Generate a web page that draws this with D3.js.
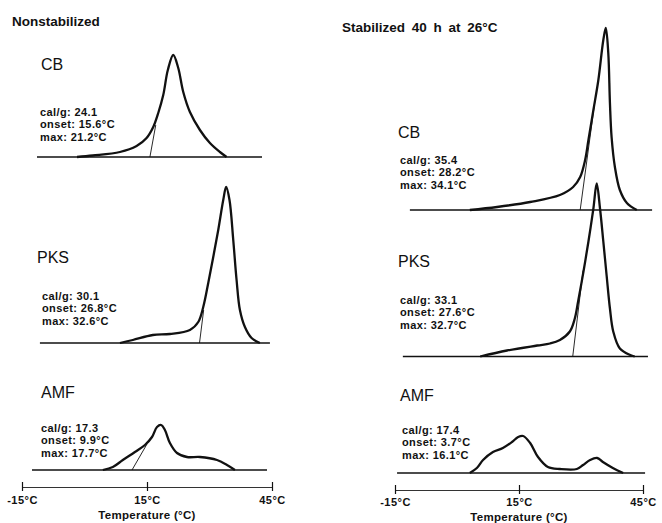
<!DOCTYPE html>
<html>
<head>
<meta charset="utf-8">
<script src="https://cdn.jsdelivr.net/npm/d3@7"></script>
<style>
  body { margin: 0; background: #fff; }
  text { font-family: "Liberation Sans", Arial, sans-serif; fill: #111; }
</style>
</head>
<body>
<script>
// temperature ticks of both axes
const tempTicks = [-15, 15, 45];
const panelNames = ["CB", "PKS", "AMF"];
const columnTitles = ["Nonstabilized", "Stabilized 40 h at 26\u00b0C"];

// stats printed next to each thermogram
const nonstabStats = [
  ["cal/g: 24.1", "onset: 15.6\u00b0C", "max: 21.2\u00b0C"],
  ["cal/g: 30.1", "onset: 26.8\u00b0C", "max: 32.6\u00b0C"],
  ["cal/g: 17.3", "onset: 9.9\u00b0C", "max: 17.7\u00b0C"]
];
const stabStats = [
  ["cal/g: 35.4", "onset: 28.2\u00b0C", "max: 34.1\u00b0C"],
  ["cal/g: 33.1", "onset: 27.6\u00b0C", "max: 32.7\u00b0C"],
  ["cal/g: 17.4", "onset: 3.7\u00b0C", "max: 16.1\u00b0C"]
];

// melting curves, [temperature, heat flow (arbitrary units)]
const cbNonstab = [[-1.8,0],[2.0,1.5],[8.5,5],[12.5,11],[14.9,19],[16.5,30],[17.7,44],[18.9,62],[20.0,87],
  [21.3,102],[22.5,89],[23.7,65],[25.3,45],[27.7,27],[30.1,14],[32.5,5],[34.1,0]];
const pksNonstab = [[8.5,0],[11.6,3],[16.4,8],[20.5,9],[25.3,13],[27.3,21],[28.5,36],[29.7,60],[30.9,86],
  [32.1,113],[33.3,143],[34.0,156],[34.8,143],[35.7,103],[36.5,63],[37.3,33],[38.5,16],[40.1,5],[42.1,0]];
const amfNonstab = [[4.4,0],[6.8,3],[9.2,10],[12.1,18],[14.5,25],[16.2,33],[17.4,43],[18.4,45],[19.3,40],
  [20.5,27],[22.2,17],[24.6,13],[27.7,13],[31.8,10],[34.2,5],[36.1,0]];
const cbStab = [[3.1,0],[9.7,3],[17.7,8],[24.9,15],[28.1,23],[29.8,33],[31.0,50],[31.8,70],[33.0,100],
  [34.2,130],[35.4,170],[36.0,182],[36.6,157],[37.0,107],[37.4,73],[38.2,43],[39.4,20],[41.1,7],[43.5,0]];
const pksStab = [[5.6,0],[12.1,6],[19.4,11],[22.5,13],[24.9,16.5],[27.3,25],[28.5,38],[29.3,55],[30.6,85],
  [31.8,115],[33.0,148],[33.8,173],[34.6,148],[35.4,115],[36.2,81],[37.0,48],[37.8,25],[39.4,8],[41.9,1.5],[43.0,0]];
const amfStab = [[3.1,0],[4.8,5],[6.3,13],[8.7,21],[11.1,25],[13.3,31],[14.8,36],[16.0,37],[17.7,30],
  [19.6,16],[22.0,6],[24.9,4],[29.0,4],[30.5,8],[32.2,13],[33.9,15],[35.3,11],[37.7,5],[40.2,0]];

// onset tangents, [temperature, heat flow]
const cbNonstabOnset = [[15.7,0],[17.1,32]];
const pksNonstabOnset = [[27.6,0],[28.6,33]];
const amfNonstabOnset = [[11.4,0],[15.0,26]];
const cbStabOnset = [[29.8,0],[33.4,110]];
const pksStabOnset = [[28.0,0],[30.5,86]];

const width = 662, height = 523;

const svg = d3.select("body").append("svg")
  .attr("width", width)
  .attr("height", height);

// layout of the two columns
const columns = [
  { range: [22, 272], axisY: 487, tickY: 9, labelY: 519, titleX: 12, titleY: 26,
    statsX: [40, 42, 41], nameX: [41, 37, 41],
    base: [157, 343, 470], nameY: [70, 263, 398], statsY: [116, 300, 432],
    span: [[-11.4, 42.6], [-10.7, 44.5], [-12.6, 43.8]],
    curves: [cbNonstab, pksNonstab, amfNonstab], onsets: [cbNonstabOnset, pksNonstabOnset, amfNonstabOnset],
    stats: nonstabStats, wordSpacing: 0 },
  { range: [395, 643], axisY: 490, tickY: 8, labelY: 520.5, titleX: 342, titleY: 32,
    statsX: [400, 400, 402], nameX: [398, 398, 400],
    base: [210, 356.5, 473], nameY: [138, 267, 401], statsY: [164, 304, 434],
    span: [[-11.4, 47.2], [-13.1, 46.2], [-14.5, 45.5]],
    curves: [cbStab, pksStab, amfStab], onsets: [cbStabOnset, pksStabOnset, null],
    stats: stabStats, wordSpacing: 3 }
];

columns.forEach((col, c) => {
  const x = d3.scaleLinear().domain([-15, 45]).range(col.range);

  svg.append("text")
    .attr("x", col.titleX)
    .attr("y", col.titleY)
    .attr("font-size", 13.5)
    .attr("font-weight", "bold")
    .attr("word-spacing", col.wordSpacing)
    .text(columnTitles[c]);

  panelNames.forEach((name, i) => {
    const y = d3.scaleLinear().domain([0, 100]).range([col.base[i], col.base[i] - 100]);
    const line = d3.line().x(d => x(d[0])).y(d => y(d[1]));

    // baseline
    svg.append("path")
      .attr("d", line([[col.span[i][0], 0], [col.span[i][1], 0]]))
      .attr("stroke", "#111")
      .attr("stroke-width", 1.6)
      .attr("fill", "none");

    // onset tangent
    if (col.onsets[i]) {
      svg.append("path")
        .attr("d", line(col.onsets[i]))
        .attr("stroke", "#111")
        .attr("stroke-width", 0.9)
        .attr("fill", "none");
    }

    // thermogram
    svg.append("path")
      .attr("d", line.curve(d3.curveCatmullRom.alpha(0.5))(col.curves[i]))
      .attr("stroke", "#111")
      .attr("stroke-width", 2.3)
      .attr("stroke-linejoin", "round")
      .attr("fill", "none");

    svg.append("text")
      .attr("x", col.nameX[i])
      .attr("y", col.nameY[i])
      .attr("font-size", 16)
      .text(name);

    col.stats[i].forEach((s, k) => {
      svg.append("text")
        .attr("x", col.statsX[i])
        .attr("y", col.statsY[i] + k * 12.4)
        .attr("font-size", 11)
        .attr("font-weight", "bold")
        .attr("letter-spacing", 0.4)
        .text(s);
    });
  });

  // temperature axis
  const axis = svg.append("g")
    .attr("transform", `translate(0,${col.axisY})`)
    .call(d3.axisBottom(x).tickValues(tempTicks).tickSizeOuter(0).tickFormat(d => d + "\u00b0C"));
  axis.select(".domain").attr("stroke", "#333").attr("stroke-width", 1);
  axis.selectAll(".tick line").attr("y1", -5).attr("y2", 4).attr("stroke", "#111").attr("stroke-width", 1.2);
  axis.selectAll(".tick text")
    .attr("y", col.tickY)
    .attr("font-size", 11)
    .attr("font-weight", "bold")
    .attr("letter-spacing", 0.5)
    .attr("font-family", "Liberation Sans, Arial, sans-serif")
    .attr("fill", "#111");

  svg.append("text")
    .attr("x", (col.range[0] + col.range[1]) / 2)
    .attr("y", col.labelY)
    .attr("text-anchor", "middle")
    .attr("font-size", 11.5)
    .attr("font-weight", "bold")
    .attr("letter-spacing", 0.3)
    .text("Temperature (\u00b0C)");
});
</script>
</body>
</html>
